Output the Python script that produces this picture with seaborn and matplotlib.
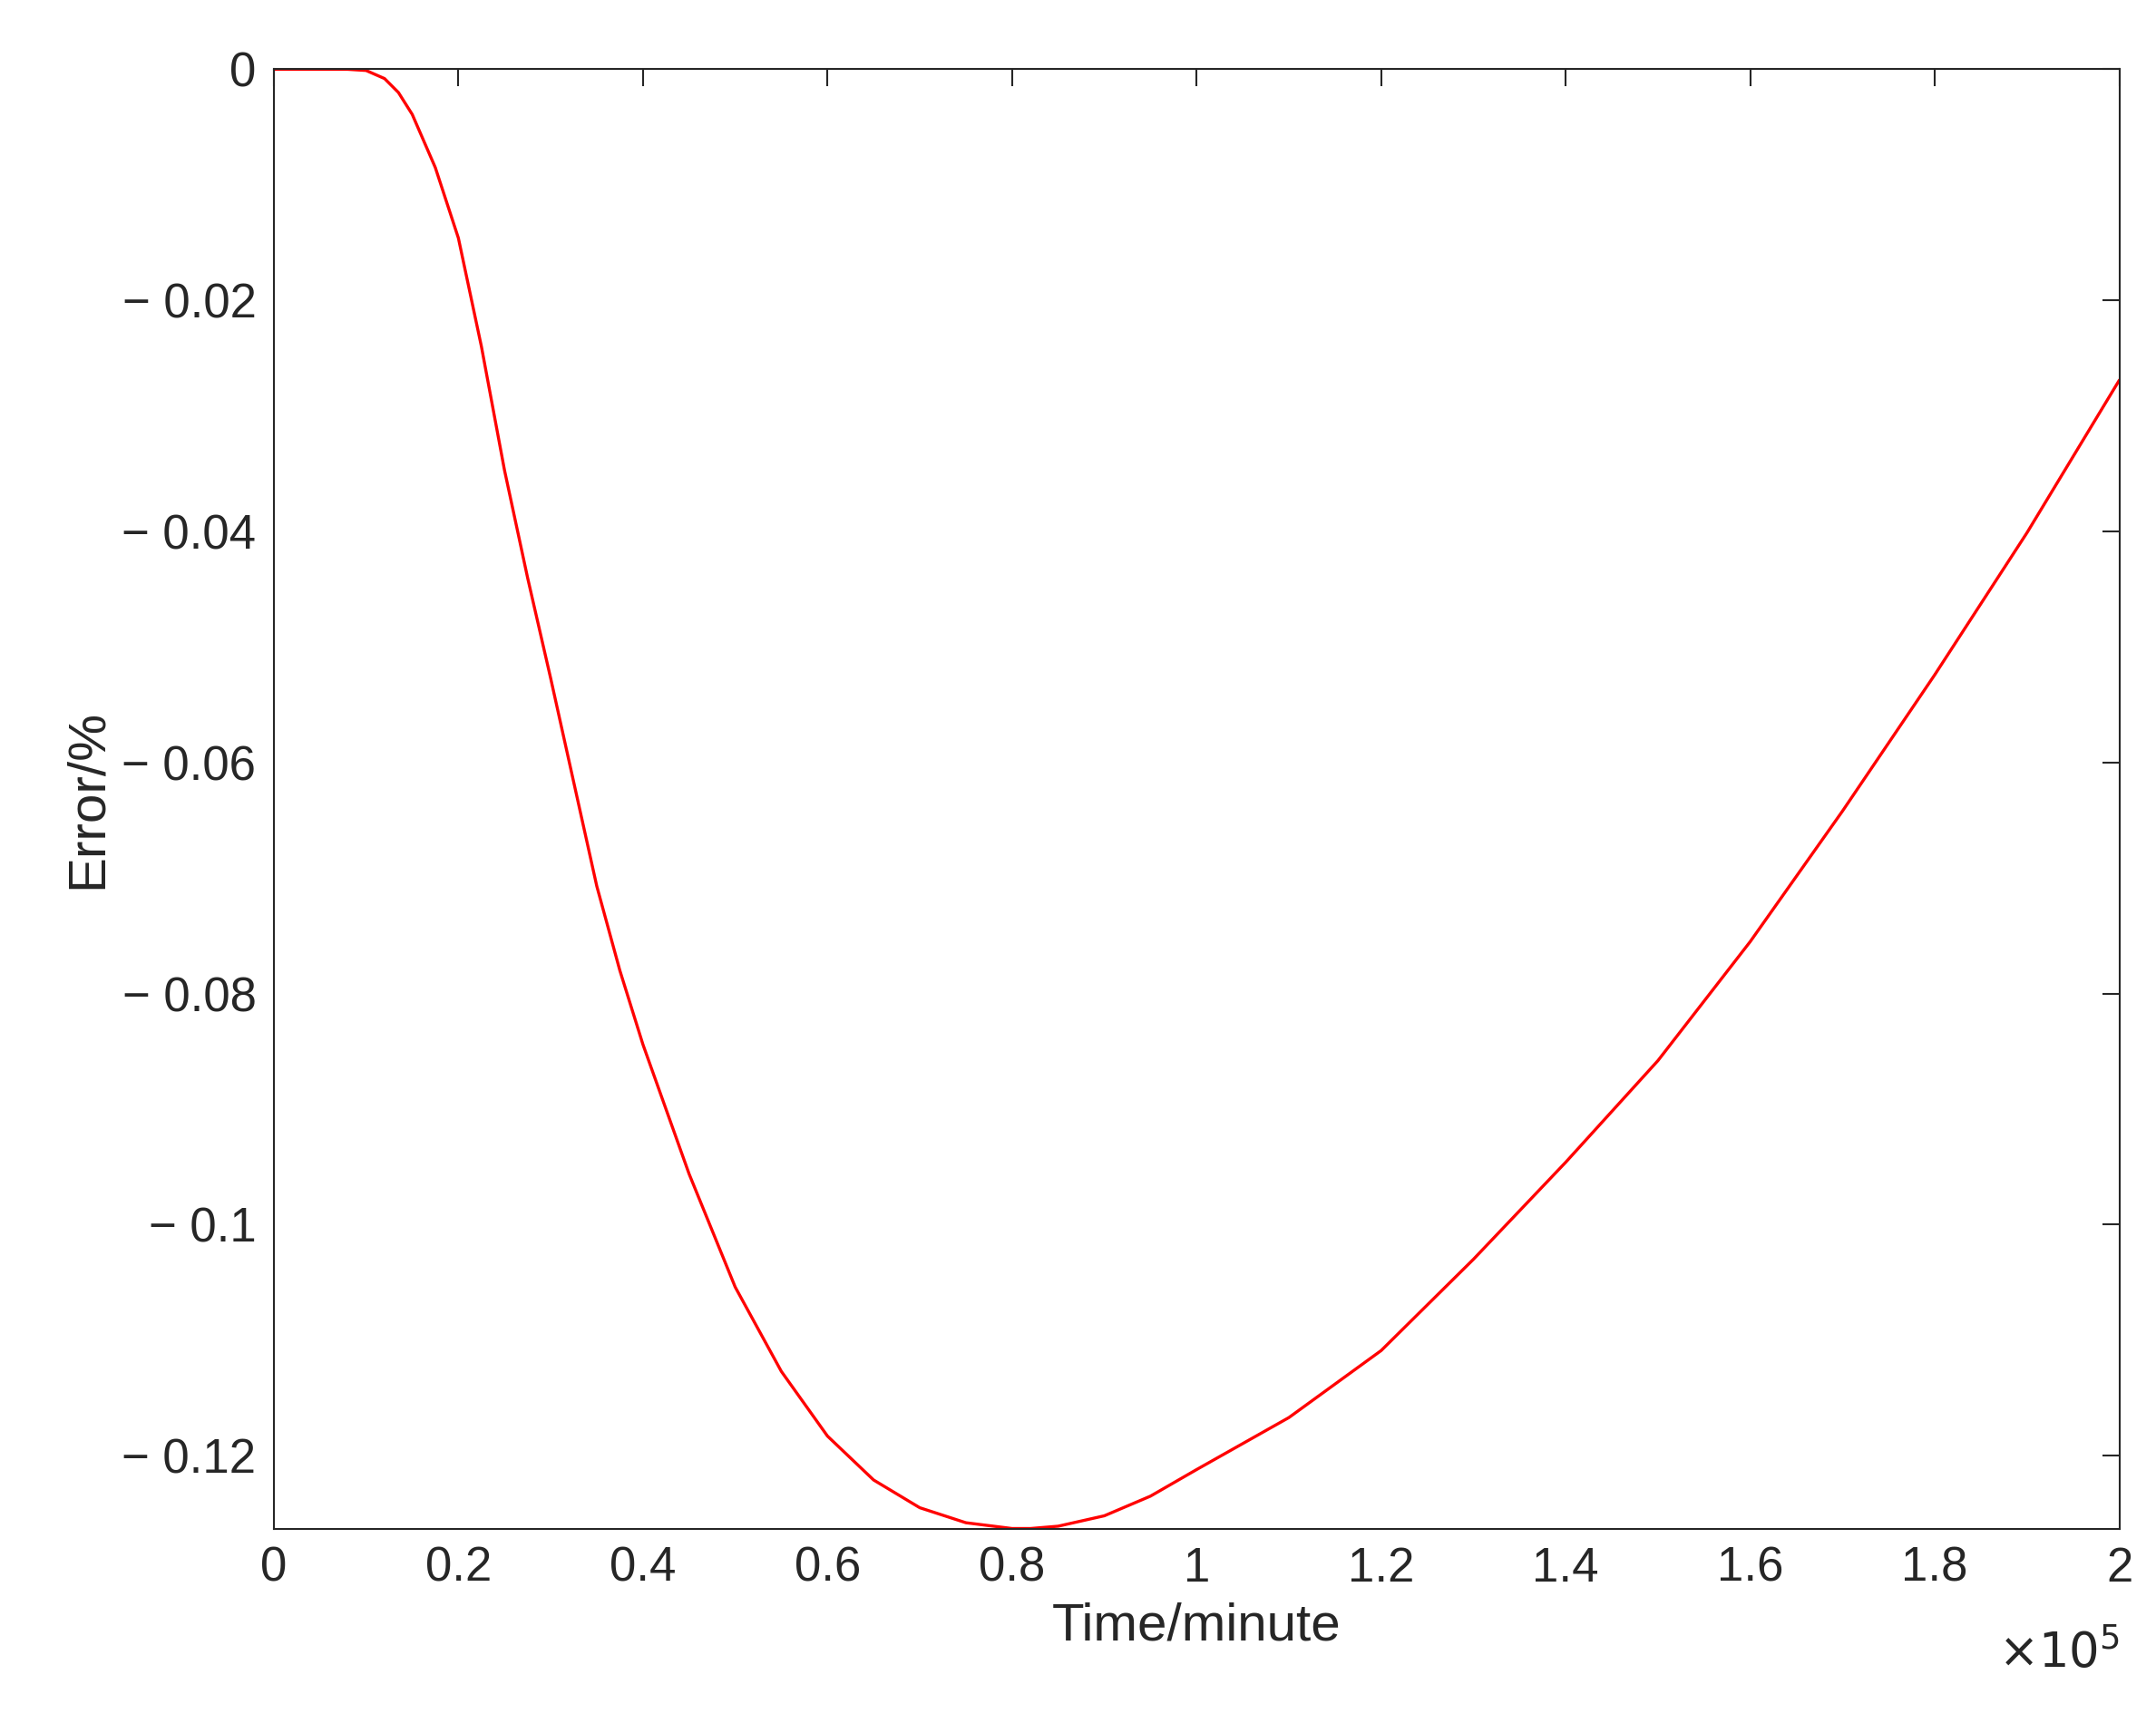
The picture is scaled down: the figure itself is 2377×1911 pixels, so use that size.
import matplotlib
matplotlib.use("Agg")
import matplotlib.pyplot as plt
import seaborn as sns
import numpy as np

sns.set_theme(style="white")
plt.rcParams['font.family'] = ['Liberation Sans', 'DejaVu Sans']

time_e5 = [0, 0.05, 0.08, 0.10, 0.12, 0.135, 0.15, 0.175, 0.2, 0.225, 0.25, 0.275, 0.3, 0.325, 0.35, 0.375, 0.4, 0.45, 0.5, 0.55, 0.6, 0.65, 0.7, 0.75, 0.8, 0.82, 0.85, 0.9, 0.95, 1.0, 1.1, 1.2, 1.3, 1.4, 1.5, 1.6, 1.7, 1.8, 1.9, 2.0]
error = [0, 0, 0, -0.0001, -0.0008, -0.002, -0.0039, -0.0085, -0.0146, -0.0240, -0.0347, -0.0440, -0.0527, -0.0617, -0.0707, -0.0780, -0.0844, -0.0956, -0.1054, -0.1127, -0.1183, -0.1221, -0.1245, -0.1258, -0.1263, -0.1263, -0.1261, -0.1252, -0.1235, -0.1212, -0.1167, -0.1109, -0.1030, -0.0946, -0.0858, -0.0755, -0.0642, -0.0524, -0.0401, -0.0269]

fig = plt.figure(figsize=(23.77, 19.11), dpi=100)
ax = fig.add_axes([0.127, 0.118, 0.856, 0.842])
sns.lineplot(x=np.array(time_e5) * 1e5, y=error, ax=ax, color='red', linewidth=2.4)
ax.set_xlim(0, 2e5)
ax.set_ylim(-0.1263, 0)
xt = [0, 0.2, 0.4, 0.6, 0.8, 1, 1.2, 1.4, 1.6, 1.8, 2]
ax.set_xticks([v * 1e5 for v in xt])
ax.set_xticklabels(['0', '0.2', '0.4', '0.6', '0.8', '1', '1.2', '1.4', '1.6', '1.8', '2'])
yt = [0, -0.02, -0.04, -0.06, -0.08, -0.1, -0.12]
ax.set_yticks(yt)
ax.set_yticklabels(['0', '− 0.02', '− 0.04', '− 0.06', '− 0.08', '− 0.1', '− 0.12'])
ax.tick_params(direction='in', length=14, width=1.5, top=True, right=True,
               labelsize=38, colors='#262626', pad=14)
for s in ax.spines.values():
    s.set_color('#262626'); s.set_linewidth(1.5)
ax.set_xlabel('Time/minute', fontsize=42, color='#262626', labelpad=8)
ax.set_ylabel('Error/%', fontsize=42, color='#262626', labelpad=8)
fig.text(0.983, 0.032, r'$\times10^{5}$', ha='right', va='bottom', fontsize=38, color='#262626')
fig.savefig('out.png', dpi=100)
